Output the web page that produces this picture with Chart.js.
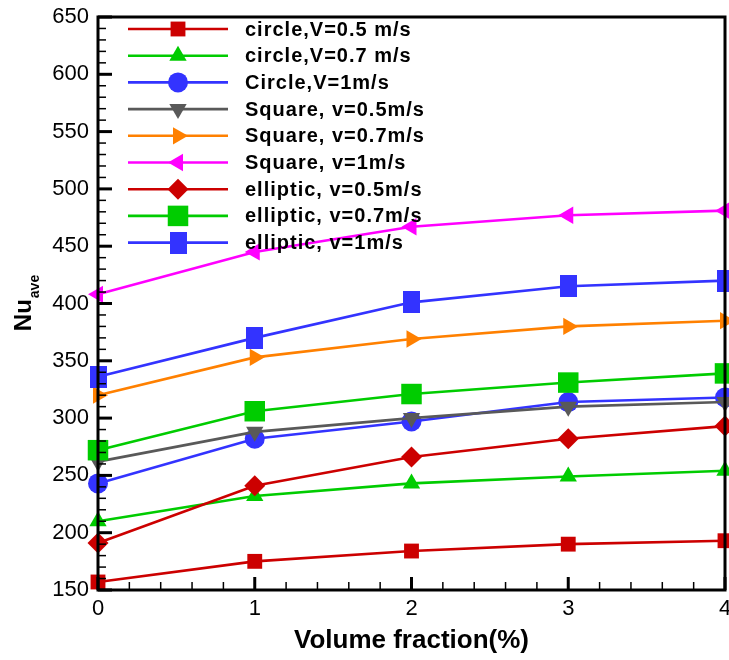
<!DOCTYPE html>
<html>
<head>
<meta charset="utf-8">
<script src="https://cdn.jsdelivr.net/npm/chart.js@4.4.1/dist/chart.umd.min.js"></script>
<style>
  html, body { margin: 0; padding: 0; background: #fff; }
</style>
</head>
<body>
<canvas id="nuChart" width="729" height="660"></canvas>
<script>
// volume fraction (%) on the x axis
var volumeFraction = [0, 1, 2, 3, 4];

// average Nusselt number
var circle05 = [157, 175, 184, 190, 193];
var circle07 = [210, 232, 243, 249, 254];
var circle1 = [243, 282, 297, 314, 318];
var square05 = [262, 288, 300, 310, 314];
var square07 = [320, 353, 369, 380, 385];
var square1 = [408, 445, 467, 477, 481];
var elliptic05 = [191, 241, 266, 282, 293];
var elliptic07 = [272, 306, 321, 331, 339];
var elliptic1 = [336, 370, 401, 415, 420];

var seriesLabels = [
  'circle,V=0.5 m/s', 'circle,V=0.7 m/s', 'Circle,V=1m/s',
  'Square, v=0.5m/s', 'Square, v=0.7m/s', 'Square, v=1m/s',
  'elliptic, v=0.5m/s', 'elliptic, v=0.7m/s', 'elliptic, v=1m/s'
];

var FONT = '"Liberation Sans", Arial, sans-serif';
Chart.defaults.font.family = FONT;
Chart.defaults.color = '#000';

function rectMarker(w, h, color) {
  var c = document.createElement('canvas');
  c.width = w; c.height = h;
  var g = c.getContext('2d');
  g.fillStyle = color;
  g.fillRect(0, 0, w, h);
  return c;
}

function series(i, values, color, style, radius, rotation) {
  return {
    label: seriesLabels[i],
    data: values.map(function (v, k) { return { x: volumeFraction[k], y: v }; }),
    borderColor: color,
    backgroundColor: color,
    borderWidth: 2.6,
    pointStyle: style,
    pointRadius: radius,
    pointHoverRadius: radius,
    pointRotation: rotation || 0,
    pointBorderWidth: 0,
    pointBackgroundColor: color,
    fill: false,
    tension: 0,
    clip: false,
    order: -i
  };
}

var RED = '#cc0000', GREEN = '#00cc00', BLUE = '#3333ff';

var datasets = [
  series(0, circle05, RED, 'rect', 10.5),
  series(1, circle07, GREEN, 'triangle', 10),
  series(2, circle1, BLUE, 'circle', 10),
  series(3, square05, '#595959', 'triangle', 10, 180),
  series(4, square07, '#ff8000', 'triangle', 10, 90),
  series(5, square1, '#ff00ff', 'triangle', 10, -90),
  series(6, elliptic05, RED, 'rectRot', 10.5),
  series(7, elliptic07, GREEN, 'rect', 14.5),
  series(8, elliptic1, BLUE, rectMarker(17, 22, BLUE), 11)
];

// frame with inward major/minor ticks, drawn over the lines like the original
var frameTicks = {
  id: 'frameTicks',
  afterDatasetsDraw: function (chart) {
    var c = chart.ctx, a = chart.chartArea;
    var xs = chart.scales.x, ys = chart.scales.y;
    c.save();
    c.strokeStyle = '#000';
    for (var v = ys.min; v <= ys.max; v += 10) {
      var major = (v - ys.min) % 50 === 0;
      var py = ys.getPixelForValue(v);
      c.lineWidth = major ? 3 : 1.5;
      c.beginPath();
      c.moveTo(a.left, py);
      c.lineTo(a.left + (major ? 14 : 8), py);
      c.stroke();
    }
    for (var k = 0; k <= 20; k++) {
      var xv = xs.min + k * 0.2;
      var px = xs.getPixelForValue(xv);
      var maj = k % 5 === 0;
      c.lineWidth = maj ? 3 : 1.5;
      c.beginPath();
      c.moveTo(px, a.bottom);
      c.lineTo(px, a.bottom - (maj ? 13 : 8));
      c.stroke();
    }
    c.lineWidth = 3;
    c.strokeRect(a.left, a.top, a.right - a.left, a.bottom - a.top);
    c.restore();
  },
  afterDraw: function (chart) {
    var c = chart.ctx, a = chart.chartArea;
    c.save();
    // legend inside the plot, top left
    chart.data.datasets.forEach(function (ds, i) {
      var y = a.top + 12 + i * 26.7;
      c.strokeStyle = ds.borderColor;
      c.lineWidth = ds.borderWidth;
      c.beginPath();
      c.moveTo(a.left + 30, y);
      c.lineTo(a.left + 130, y);
      c.stroke();
      c.fillStyle = ds.pointBackgroundColor;
      Chart.helpers.drawPoint(c, {
        pointStyle: ds.pointStyle, radius: ds.pointRadius,
        rotation: ds.pointRotation, borderWidth: 0
      }, a.left + 80, y);
      c.fillStyle = '#000';
      c.font = 'bold 20px ' + FONT;
      c.textAlign = 'left';
      c.textBaseline = 'middle';
      c.letterSpacing = '1px';
      c.fillText(ds.label, a.left + 147, y + 1);
    });
    c.letterSpacing = '0px';

    // x axis title
    c.fillStyle = '#000';
    c.font = 'bold 26px ' + FONT;
    c.textAlign = 'center';
    c.textBaseline = 'alphabetic';
    c.fillText('Volume fraction(%)', (a.left + a.right) / 2, 648);

    // y axis title Nu with subscript "ave"
    var big = 'bold 24px ' + FONT, small = 'bold 14px ' + FONT;
    c.font = big;
    var w1 = c.measureText('Nu').width;
    c.font = small;
    var w2 = c.measureText('ave').width;
    c.translate(31, (a.top + a.bottom) / 2);
    c.rotate(-Math.PI / 2);
    c.textAlign = 'left';
    c.font = big;
    c.fillText('Nu', -(w1 + w2) / 2, 0);
    c.font = small;
    c.fillText('ave', -(w1 + w2) / 2 + w1 + 1, 8);
    c.restore();
  }
};

new Chart(document.getElementById('nuChart').getContext('2d'), {
  type: 'line',
  data: { datasets: datasets },
  plugins: [frameTicks],
  options: {
    responsive: false,
    animation: false,
    layout: { autoPadding: false, padding: { top: 17, right: 4, left: 0, bottom: 0 } },
    plugins: {
      legend: { display: false },
      tooltip: { enabled: false }
    },
    scales: {
      x: {
        type: 'linear',
        min: 0,
        max: 4,
        grid: { display: false, drawTicks: false },
        border: { display: false },
        ticks: { stepSize: 1, padding: 6, font: { size: 22 }, color: '#000' },
        afterFit: function (s) {
          s.height = 70;
          s.paddingLeft = 0;
          s.paddingRight = 0;
        }
      },
      y: {
        min: 150,
        max: 650,
        grid: { display: false, drawTicks: false },
        border: { display: false },
        ticks: { stepSize: 50, padding: 9, font: { size: 22 }, color: '#000' },
        afterFit: function (s) {
          s.width = 98;
          s.paddingTop = 0;
          s.paddingBottom = 0;
        }
      }
    }
  }
});
</script>
</body>
</html>
